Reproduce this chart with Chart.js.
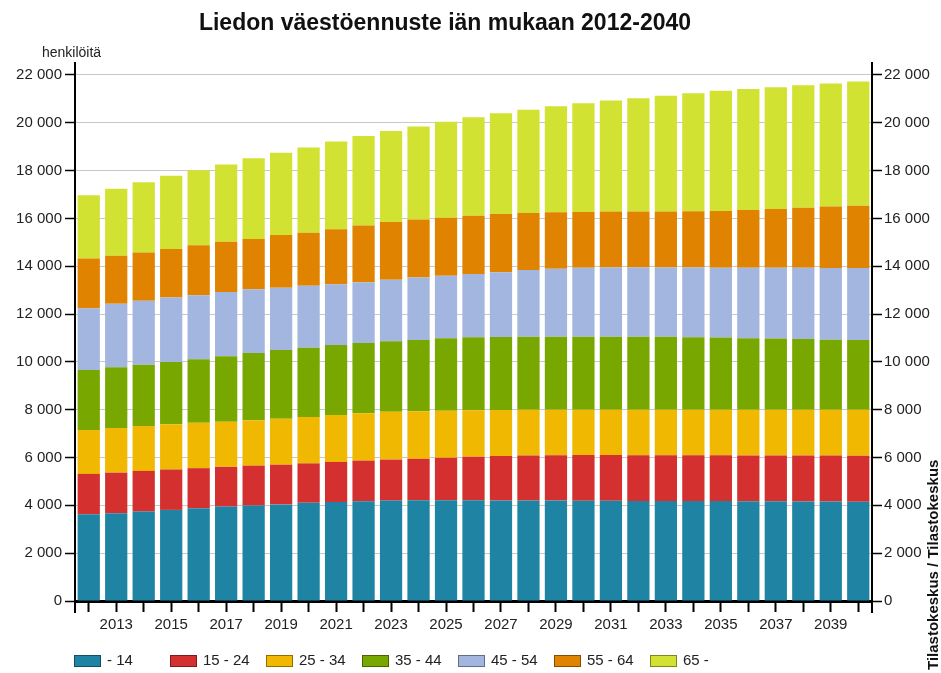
<!DOCTYPE html>
<html lang="fi">
<head>
<meta charset="utf-8">
<title>Liedon väestöennuste iän mukaan 2012-2040</title>
<script src="https://cdn.jsdelivr.net/npm/chart.js@4.4.1/dist/chart.umd.min.js"></script>
<style>
  html, body { margin: 0; padding: 0; background: #fff; }
  #wrap { width: 941px; height: 673px; }
</style>
</head>
<body>
<div id="wrap"><canvas id="chart" width="941" height="673"></canvas></div>
<script>
// Vuodet (x-akseli)
const years = ["2012", "2013", "2014", "2015", "2016", "2017", "2018", "2019", "2020",
  "2021", "2022", "2023", "2024", "2025", "2026", "2027", "2028", "2029", "2030",
  "2031", "2032", "2033", "2034", "2035", "2036", "2037", "2038", "2039", "2040"];

// Ikäryhmät, henkilöitä (luettu kuvasta)
const age0_14 = [3630, 3670, 3740, 3810, 3880, 3950, 3990, 4040, 4110, 4140, 4170, 4200, 4210, 4210,
  4210, 4205, 4200, 4200, 4195, 4190, 4185, 4185, 4180, 4180, 4175, 4170, 4165, 4160, 4155];
const age15_24 = [1685, 1700, 1700, 1690, 1675, 1660, 1670, 1660, 1645, 1675, 1700, 1715, 1740, 1780,
  1825, 1860, 1880, 1895, 1910, 1915, 1915, 1915, 1915, 1915, 1915, 1920, 1920, 1920, 1920];
const age25_34 = [1840, 1870, 1880, 1895, 1895, 1885, 1895, 1925, 1940, 1965, 1980, 1995, 1985, 1965,
  1940, 1925, 1915, 1905, 1895, 1895, 1900, 1900, 1905, 1905, 1910, 1910, 1915, 1920, 1925];
const age35_44 = [2510, 2540, 2565, 2605, 2665, 2745, 2815, 2870, 2900, 2930, 2940, 2955, 2985, 3030,
  3055, 3055, 3060, 3055, 3055, 3055, 3055, 3050, 3030, 3015, 2990, 2975, 2960, 2930, 2920];
const age45_54 = [2580, 2650, 2675, 2690, 2675, 2680, 2665, 2605, 2590, 2540, 2540, 2565, 2605, 2620,
  2645, 2705, 2790, 2845, 2885, 2895, 2890, 2895, 2915, 2925, 2950, 2960, 2975, 3000, 3010];
const age55_64 = [2075, 2005, 2010, 2035, 2090, 2105, 2105, 2205, 2215, 2300, 2370, 2425, 2425, 2425,
  2440, 2440, 2385, 2360, 2330, 2335, 2340, 2340, 2355, 2375, 2415, 2460, 2515, 2565, 2595];
const age65plus = [2650, 2805, 2945, 3055, 3135, 3235, 3375, 3445, 3570, 3665, 3750, 3805, 3890, 4015,
  4115, 4210, 4320, 4435, 4545, 4645, 4740, 4850, 4935, 5020, 5060, 5090, 5120, 5145, 5200];

const seriesLabels = ["- 14", "15 - 24", "25 - 34", "35 - 44", "45 - 54", "55 - 64", "65 -"];
const seriesData = [age0_14, age15_24, age25_34, age35_44, age45_54, age55_64, age65plus];
const seriesColors = ["#1f84a3", "#d3302f", "#f0b800", "#78a800", "#a3b6e0", "#e08300", "#d2e232"];

const yTicks = [0, 2000, 4000, 6000, 8000, 10000, 12000, 14000, 16000, 18000, 20000, 22000];
const yMax = 22500;

const FONT = "'Liberation Sans', Arial, sans-serif";

function fmtThousands(v) {
    return String(v).replace(/\B(?=(\d{3})+(?!\d))/g, " ");
}

// Otsikko, yksikkö, lähde ja selite piirretään itse
const decorPlugin = {
    id: "decor",
    afterDraw(chart) {
        const ctx = chart.ctx;
        const area = chart.chartArea;
        ctx.save();

        // akselien jatkeet alaspäin
        ctx.strokeStyle = "#000";
        ctx.lineWidth = 2;
        ctx.beginPath();
        ctx.moveTo(area.left, area.bottom);
        ctx.lineTo(area.left, area.bottom + 12);
        ctx.moveTo(area.right, area.bottom);
        ctx.lineTo(area.right, area.bottom + 12);
        ctx.stroke();

        ctx.fillStyle = "#111";
        ctx.textBaseline = "middle";
        ctx.textAlign = "center";
        ctx.font = "bold 23px " + FONT;
        ctx.fillText("Liedon väestöennuste iän mukaan 2012-2040", 445, 24);

        ctx.textAlign = "left";
        ctx.font = "14px " + FONT;
        ctx.fillStyle = "#222";
        ctx.fillText("henkilöitä", 42, 53);

        // lähde pystyyn
        ctx.save();
        ctx.translate(934, 670);
        ctx.rotate(-Math.PI / 2);
        ctx.font = "bold 15px " + FONT;
        ctx.fillStyle = "#111";
        ctx.fillText("Tilastokeskus / Tilastokeskus", 0, 0);
        ctx.restore();

        // selite
        ctx.font = "15px " + FONT;
        chart.data.datasets.forEach((ds, i) => {
            const x = area.left - 1 + i * 96;
            const y = 661;
            ctx.fillStyle = ds.backgroundColor;
            ctx.fillRect(x, y - 6, 27, 12);
            ctx.strokeStyle = "rgba(0,0,0,0.4)";
            ctx.lineWidth = 1;
            ctx.strokeRect(x + 0.5, y - 5.5, 26, 11);
            ctx.fillStyle = "#222";
            ctx.fillText(ds.label, x + 33, y);
        });
        ctx.restore();
    }
};

const ctx = document.getElementById("chart");
new Chart(ctx, {
    type: "bar",
    data: {
        labels: years,
        datasets: seriesLabels.map((label, i) => ({
            label: label,
            data: seriesData[i],
            backgroundColor: seriesColors[i],
            borderWidth: 0,
            barPercentage: 0.81,
            categoryPercentage: 1.0,
            stack: "vaesto"
        }))
    },
    options: {
        responsive: false,
        animation: false,
        layout: { padding: { top: 63, left: 0, right: 0, bottom: 0 } },
        plugins: {
            legend: { display: false },
            title: { display: false },
            tooltip: { enabled: false }
        },
        scales: {
            x: {
                stacked: true,
                grid: {
                    offset: false,
                    drawOnChartArea: false,
                    tickLength: 11,
                    tickColor: "#000",
                    tickWidth: 2
                },
                border: { color: "#000", width: 3 },
                ticks: {
                    autoSkip: false,
                    maxRotation: 0,
                    padding: 4,
                    color: "#222",
                    font: { family: FONT, size: 15 },
                    callback: function (val, index) {
                        return index % 2 === 1 ? years[index] : "";
                    }
                },
                afterFit: (scale) => { scale.height = 72; }
            },
            y: {
                stacked: true,
                position: "left",
                min: 0,
                max: yMax,
                afterBuildTicks: (scale) => { scale.ticks = yTicks.map(v => ({ value: v })); },
                grid: {
                    color: "#c8c8c8",
                    lineWidth: 1,
                    tickLength: 10,
                    tickColor: "#000",
                    tickWidth: 1.5
                },
                border: { color: "#000", width: 2 },
                ticks: {
                    padding: 3,
                    color: "#222",
                    font: { family: FONT, size: 15 },
                    callback: (v) => fmtThousands(v)
                },
                afterFit: (scale) => { scale.width = 75; }
            },
            y2: {
                position: "right",
                min: 0,
                max: yMax,
                afterBuildTicks: (scale) => { scale.ticks = yTicks.map(v => ({ value: v })); },
                grid: {
                    drawOnChartArea: false,
                    tickLength: 10,
                    tickColor: "#000",
                    tickWidth: 1.5
                },
                border: { color: "#000", width: 2 },
                ticks: {
                    padding: 2,
                    color: "#222",
                    font: { family: FONT, size: 15 },
                    callback: (v) => fmtThousands(v)
                },
                afterFit: (scale) => { scale.width = 69; }
            }
        }
    },
    plugins: [decorPlugin]
});
</script>
</body>
</html>
